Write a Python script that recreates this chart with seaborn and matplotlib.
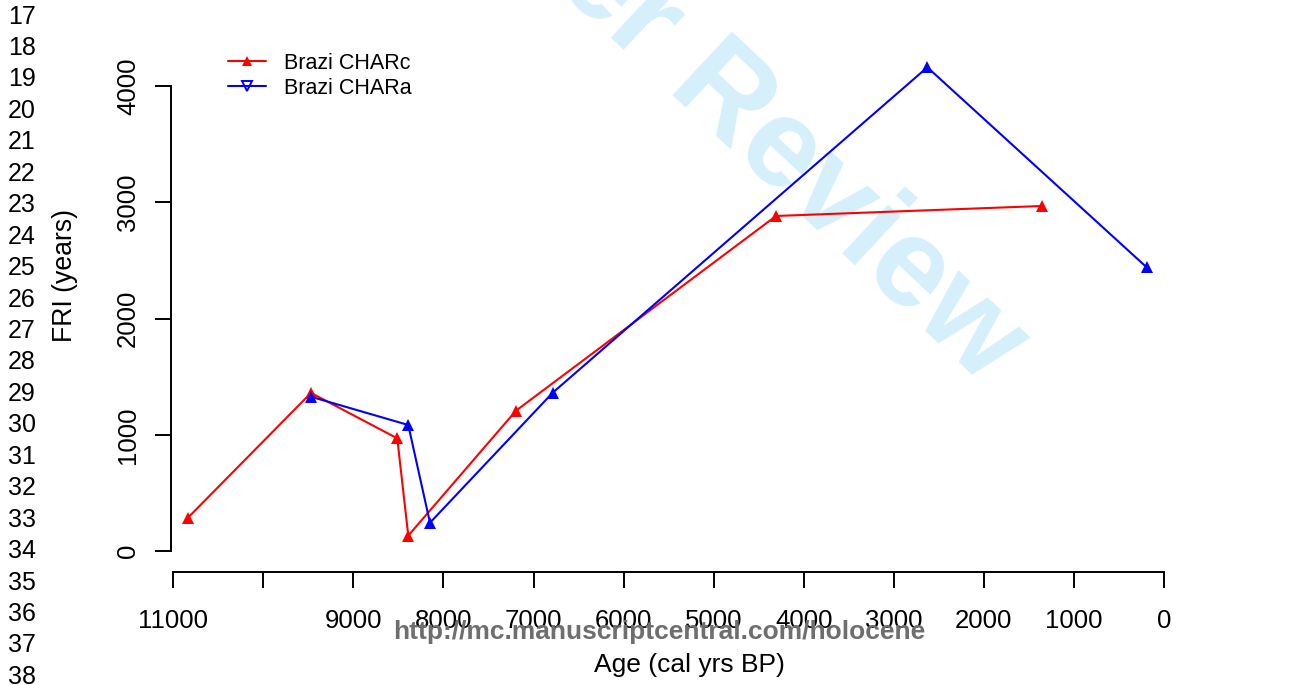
import matplotlib
matplotlib.use("Agg")
import matplotlib.pyplot as plt
from matplotlib.lines import Line2D
import pandas as pd
import seaborn as sns

# Fire return interval (FRI) through time, Brazi charcoal record
charc_age = [10840, 9471, 8513, 8391, 7195, 4308, 1354]
charc_fri = [284, 1360, 969, 132, 1207, 2882, 2968]
chara_age = [9471, 8391, 8150, 6787, 2628, 192]
chara_fri = [1327, 1084, 243, 1362, 4161, 2440]

series_names = ["Brazi CHARc", "Brazi CHARa"]
series_colors = ["red", "blue"]

x_ticks = [0, 1000, 2000, 3000, 4000, 5000, 6000, 7000, 8000, 9000, 10000, 11000]
x_tick_labels = ["0", "1000", "2000", "3000", "4000", "5000", "6000",
                 "7000", "8000", "9000", "", "11000"]
y_ticks = [0, 1000, 2000, 3000, 4000]
y_tick_labels = ["0", "1000", "2000", "3000", "4000"]

page_line_numbers = [str(n) for n in range(17, 39)]
journal_url = "http://mc.manuscriptcentral.com/holocene"
watermark = "For Peer Review"

df = pd.DataFrame({
    "age": charc_age + chara_age,
    "fri": charc_fri + chara_fri,
    "series": [series_names[0]] * len(charc_age) + [series_names[1]] * len(chara_age),
})

sns.set_style("ticks")
plt.rcParams["font.family"] = ["Liberation Sans", "DejaVu Sans"]
for key in ("text.color", "axes.labelcolor", "xtick.color", "ytick.color",
            "axes.edgecolor"):
    plt.rcParams[key] = "black"

W, H = 1304, 685
fig = plt.figure(figsize=(W / 100, H / 100), dpi=100)

# plot region in pixels
left_px, right_px, top_px, bottom_px = 171.3, 1186.0, 48.0, 571.7
ax = fig.add_axes([left_px / W, 1 - bottom_px / H,
                   (right_px - left_px) / W, (bottom_px - top_px) / H])
ax.patch.set_visible(False)

sns.lineplot(data=df, x="age", y="fri", hue="series", hue_order=series_names,
             palette=dict(zip(series_names, series_colors)),
             estimator=None, sort=False, marker="^", markersize=8,
             markeredgewidth=0, linewidth=1.5, legend=False, ax=ax)

ax.set_xlim(11022, -244)
ax.set_ylim(-178, 4327)

for side in ("top", "right"):
    ax.spines[side].set_visible(False)
for side in ("left", "bottom"):
    ax.spines[side].set_linewidth(1.4)
ax.spines["left"].set_bounds(0, 4000)
ax.spines["bottom"].set_bounds(0, 11000)

ax.set_xticks(x_ticks)
ax.set_xticklabels(x_tick_labels)
ax.set_yticks(y_ticks)
ax.set_yticklabels(y_tick_labels, rotation=90, va="center")
ax.tick_params(axis="both", direction="out", length=11.5, width=1.4,
               labelsize=18.5, colors="black")
ax.tick_params(axis="x", pad=15)
ax.tick_params(axis="y", pad=11)

ax.set_xlabel("Age (cal yrs BP)", fontsize=19, va="center")
ax.xaxis.set_label_coords(689 / W, 1 - 665 / H, transform=fig.transFigure)
ax.set_ylabel("FRI (years)", fontsize=19.2, va="center", rotation=90)
ax.yaxis.set_label_coords(65 / W, 1 - 276 / H, transform=fig.transFigure)

handles = [
    Line2D([], [], color="red", marker="^", markersize=7.5, markeredgewidth=0, lw=1.5),
    Line2D([], [], color="blue", marker="v", markersize=7, markerfacecolor="none",
           markeredgecolor="blue", markeredgewidth=1.4, lw=1.5),
]
ax.legend(handles, series_names, loc="upper left",
          bbox_to_anchor=(228 / W, 1 - 53 / H), bbox_transform=fig.transFigure,
          frameon=False, fontsize=15.5, handlelength=1.77, handletextpad=0.84,
          labelspacing=0.18, borderpad=0, borderaxespad=0)

# page furniture: line numbers, watermark, journal url
for i, label in enumerate(page_line_numbers):
    fig.text(8 / W, 1 - (16.5 + 31.45 * i) / H, label, ha="left", va="center",
             fontsize=18)

fig.text(647 / W, 1 - 27 / H, watermark, rotation=-43, rotation_mode="anchor",
         ha="center", va="center", fontsize=91, fontweight="bold",
         color="#d5effb", zorder=-5)

fig.text(659 / W, 1 - 632 / H, journal_url, ha="center", va="center",
         fontsize=19, fontweight="bold", color="#6e6e6e", zorder=10)

fig.savefig("out.png", dpi=100)
